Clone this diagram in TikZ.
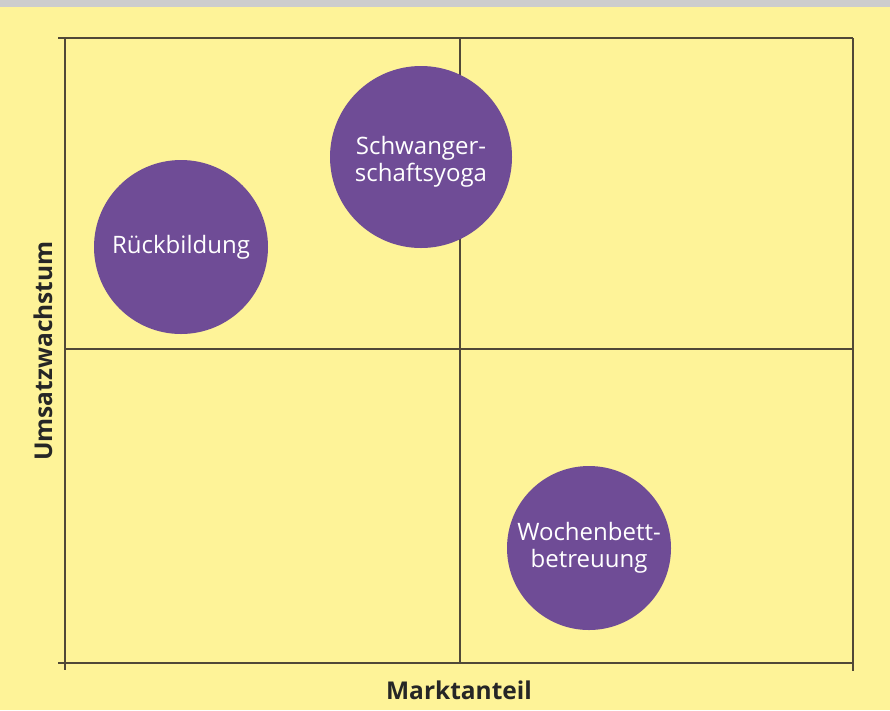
\documentclass[tikz,border=0pt]{standalone}
\usepackage{fontspec}
\setmainfont{Open Sans}
\usepackage{xcolor}
\definecolor{paper}{RGB}{254,243,152}
\definecolor{band}{RGB}{205,205,205}
\definecolor{bubblepurple}{RGB}{111,76,150}
\definecolor{gridline}{RGB}{80,72,55}
\tikzset{
  bubble/.style={circle,fill=bubblepurple,text=white,inner sep=0pt,
    align=center,font=\fontsize{24}{27}\selectfont},
  axislabel/.style={font=\fontsize{24.5}{28}\selectfont\bfseries,text=black!85}
}

\begin{document}
\begin{tikzpicture}[x=1pt,y=-1pt]
      \useasboundingbox (0,0) rectangle (890,710);
      \fill[paper] (0,0) rectangle (890,710);
      \fill[band] (0,0) rectangle (890,7);
      % frame and quadrants
      \draw[gridline,line width=1.3pt] (58,38) -- (853,38);
      \draw[gridline,line width=1.3pt] (58,663) -- (853,663);
      \draw[gridline,line width=1.3pt] (65,38) -- (65,670);
      \draw[gridline,line width=1.3pt] (853,38) -- (853,671);
      \draw[gridline,line width=1.3pt] (460,38) -- (460,663);
      \draw[gridline,line width=1.3pt] (65,349) -- (853,349);
      % bubbles
      \node[bubble,minimum size=174pt] (rueck) at (181,247) {Rückbildung};
      \node[bubble,minimum size=182pt] (yoga) at (421,157) {};
      \node[align=center,text=white,font=\fontsize{24}{27}\selectfont] (yogatext) at (421,162) {Schwanger-\\schaftsyoga};
      \node[bubble,minimum size=164pt] (woche) at (589,548) {Wochenbett-\\betreuung};
      % axis labels
      \node[axislabel] (markt) at (459,690) {Marktanteil};
      \node[axislabel,rotate=90] (umsatz) at (43,351) {Umsatzwachstum};
    \end{tikzpicture}
\end{document}
